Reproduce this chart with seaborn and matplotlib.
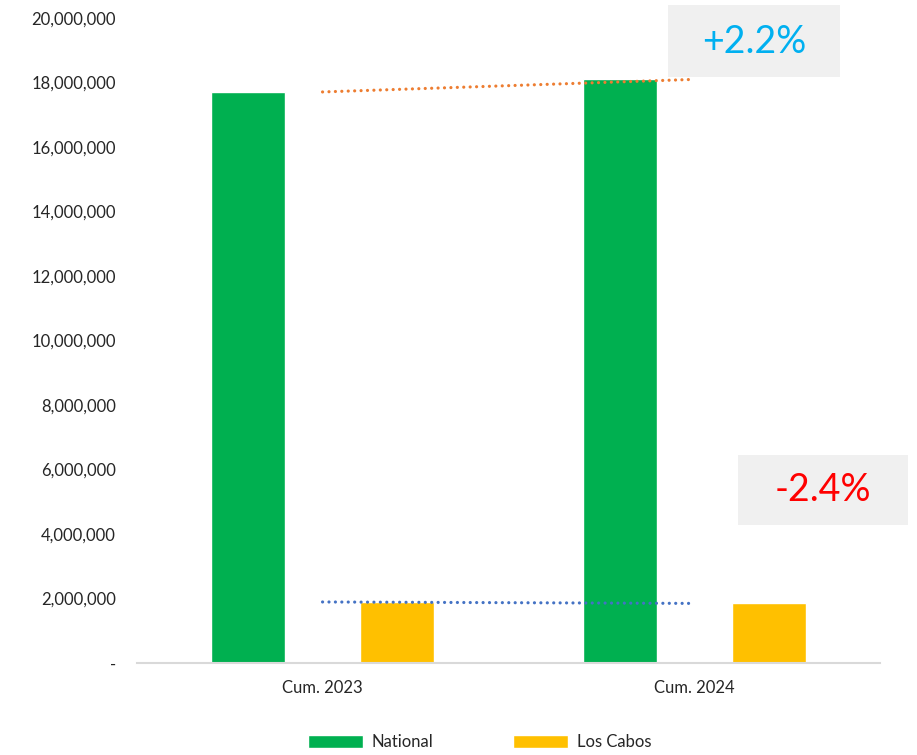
import pandas as pd
import seaborn as sns
import matplotlib.pyplot as plt
from matplotlib.patches import Rectangle
from matplotlib.ticker import FuncFormatter

# Données
periods = ['Cum. 2023', 'Cum. 2024']
national = [17710000, 18100000]
los_cabos = [1890000, 1845000]
series_names = ['National', 'Los Cabos']
changes = ['+2.2%', '-2.4%']

df = pd.DataFrame({
    'period': periods * 2,
    'value': national + los_cabos,
    'series': [series_names[0]] * 2 + [series_names[1]] * 2,
})

sns.set_style('white')
plt.rcParams['font.family'] = ['Lato', 'DejaVu Sans']

fig = plt.figure(figsize=(9.17, 7.55), dpi=100)
ax = fig.add_axes([0.149, 0.122, 0.811, 0.854])

sns.barplot(data=df, x='period', y='value', hue='series',
            palette=['#00B050', '#FFC000'], width=0.8, gap=0.5,
            saturation=1, ax=ax, legend=True)

# Lignes de tendance pointillées
ax.plot([0, 1], national, linestyle=(0, (0.01, 2)), color='#ED7D31', linewidth=2.3,
        dash_capstyle='round')
ax.plot([0, 1], los_cabos, linestyle=(0, (0.01, 2)), color='#4472C4', linewidth=2.3,
        dash_capstyle='round')

ax.set_xlim(-0.5, 1.5)
ax.set_ylim(0, 20000000)
ax.set_yticks(range(0, 20000001, 2000000))
ax.yaxis.set_major_formatter(FuncFormatter(lambda v, p: '-' if v == 0 else f'{v:,.0f}'))
ax.tick_params(axis='both', length=0, labelsize=12, colors='#262626')
ax.tick_params(axis='y', pad=15)
ax.tick_params(axis='x', pad=12)
ax.set_xlabel('')
ax.set_ylabel('')
for s in ['top', 'right', 'left']:
    ax.spines[s].set_visible(False)
ax.spines['bottom'].set_color('#D9D9D9')
ax.spines['bottom'].set_linewidth(1.5)

# Légende en bas
handles, labels = ax.get_legend_handles_labels()
ax.get_legend().remove()
fig.legend(handles, labels, loc='center', bbox_to_anchor=(0.523, 0.017), ncol=2,
           frameon=False, fontsize=12, handlelength=3.3, handleheight=0.8,
           columnspacing=4.8, handletextpad=0.5)

# Encadrés de variation
boxes = [((0.7285, 0.898, 0.1876, 0.0954), (0.822, 0.944), '#00B0F0'),
         ((0.8048, 0.3046, 0.1854, 0.0927), (0.8975, 0.351), '#FF0000')]
for (x0, y0, w, h), (tx, ty), col in boxes:
    fig.patches.append(Rectangle((x0, y0), w, h, transform=fig.transFigure,
                                 facecolor='#F0F0F0', edgecolor='none', zorder=0))
for b, txt in zip(boxes, changes):
    fig.text(b[1][0], b[1][1], txt, ha='center', va='center', fontsize=27, color=b[2])

plt.savefig('out.png', dpi=100)
